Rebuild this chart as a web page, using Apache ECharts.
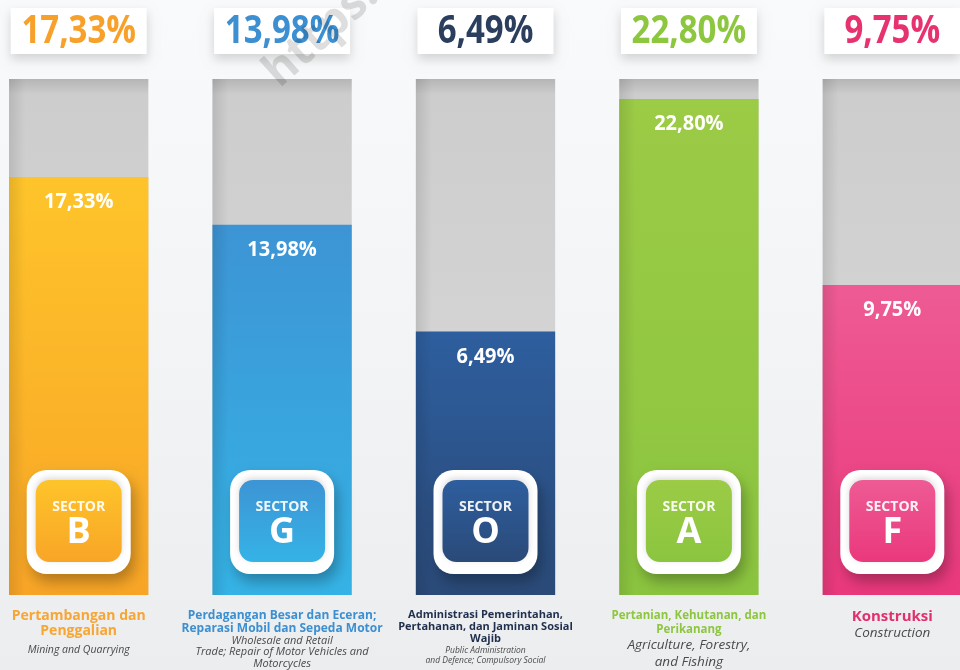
<!DOCTYPE html>
<html><head><meta charset="utf-8">
<script src="https://cdn.jsdelivr.net/npm/echarts@6/dist/echarts.min.js"></script>
<style>html,body{margin:0;padding:0;background:#f3f4f6}#c{width:960px;height:670px}</style>
</head><body><div id="c"></div>
<script>
// ---- data ----
const sectors = ['B', 'G', 'O', 'A', 'F'];
const values = [17.33, 13.98, 6.49, 22.80, 9.75];
const namesId = [
  'Pertambangan dan\nPenggalian',
  'Perdagangan Besar dan Eceran;\nReparasi Mobil dan Sepeda Motor',
  'Administrasi Pemerintahan,\nPertahanan, dan Jaminan Sosial\nWajib',
  'Pertanian, Kehutanan, dan\nPerikanang',
  'Konstruksi'
];
const namesEn = [
  'Mining and Quarrying',
  'Wholesale and Retail\nTrade; Repair of Motor Vehicles and\nMotorcycles',
  'Public Administration\nand Defence; Compulsory Social',
  'Agriculture, Forestry,\nand Fishing',
  'Construction'
];

// ---- styling ----
const Y_MIN = -12, Y_MAX = 24.2;
const barTop = ['#FEC42B', '#3D94D4', '#2E5E9E', '#9CCB46', '#EE5B94'];
const barBot = ['#F8A526', '#35B3E6', '#2A4A78', '#8BC53F', '#EA387C'];
const txtCol = ['#F7A12B', '#3C8FD0', '#2B3E5E', '#8DC63F', '#E8326F'];
const nameCol = ['#F7A533', '#3C8FD0', '#1F2F4D', '#8DC63F', '#E0316C'];
const FONT = '"Open Sans", "Noto Sans", sans-serif';
const fmt = v => v.toFixed(2).replace('.', ',') + '%';

function renderItem(params, api) {
  const i = api.value(0), v = api.value(1);
  const top = api.coord([i, Y_MAX]);
  const base = api.coord([i, Y_MIN]);
  const pt = api.coord([i, v]);
  const bw = api.size([1, 0])[0] * 0.685;
  const cx = pt[0], x0 = cx - bw / 2;
  const lg = (a, b) => new echarts.graphic.LinearGradient(0, 0, 0, 1, [{offset: 0, color: a}, {offset: 1, color: b}]);
  const bcy = base[1] - 73;
  return {
    type: 'group',
    children: [
      {type: 'rect', shape: {x: x0, y: top[1], width: bw, height: base[1] - top[1]},
        style: {fill: new echarts.graphic.LinearGradient(0, 0, 0, 1, [
          {offset: 0, color: '#B5B5B5'}, {offset: 0.03, color: '#CDCDCD'}, {offset: 1, color: '#DADADA'}])}},
      {type: 'rect', shape: {x: x0, y: pt[1], width: bw, height: base[1] - pt[1]},
        style: {fill: lg(barTop[i], barBot[i])}},
      {type: 'rect', shape: {x: x0, y: top[1], width: 16, height: base[1] - top[1]},
        style: {fill: new echarts.graphic.LinearGradient(0, 0, 1, 0, [
          {offset: 0, color: 'rgba(0,0,0,0.10)'}, {offset: 1, color: 'rgba(0,0,0,0)'}])}},
      {type: 'text', x: cx, y: pt[1] + 25, scaleY: 1.1,
        style: {text: fmt(v), fill: '#ffffff', font: '700 20px ' + FONT, align: 'center', verticalAlign: 'middle'}},
      {type: 'rect', shape: {x: cx - 68, y: 8, width: 136, height: 46},
        style: {fill: '#ffffff', shadowBlur: 10, shadowOffsetY: 5, shadowColor: 'rgba(0,0,0,0.16)'}},
      {type: 'text', x: cx, y: 32, scaleY: 1.2,
        style: {text: fmt(v), fill: txtCol[i], font: '700 33px ' + FONT, align: 'center', verticalAlign: 'middle'}},
      {type: 'rect', shape: {x: cx - 52, y: bcy - 52, width: 104, height: 104, r: 20},
        style: {fill: '#ffffff', shadowBlur: 14, shadowOffsetX: 4, shadowOffsetY: 8, shadowColor: 'rgba(0,0,0,0.28)'}},
      {type: 'rect', shape: {x: cx - 43, y: bcy - 42, width: 86, height: 82, r: 14},
        style: {fill: lg(barTop[i], barBot[i]), shadowBlur: 6, shadowOffsetY: -2, shadowColor: 'rgba(0,0,0,0.15)'}},
      {type: 'text', x: cx, y: bcy - 15,
        style: {text: 'SECTOR', fill: 'rgba(255,255,255,0.92)', font: '700 14px ' + FONT, align: 'center', verticalAlign: 'middle'}},
      {type: 'text', x: cx, y: bcy + 11,
        style: {text: sectors[i], fill: '#ffffff', font: '700 36px ' + FONT, align: 'center', verticalAlign: 'middle'}}
    ]
  };
}

const nameFont = [[14, 15], [12, 13], [11, 12], [11.5, 14], [15, 16]];
const enFont = [[10.5, 23], [11, 11.5], [8.5, 10.5], [13.5, 16.5], [13.5, 17]];
const rich = {};
for (let i = 0; i < 5; i++) {
  rich['n' + i] = {color: nameCol[i], fontFamily: FONT, fontWeight: 700, fontSize: nameFont[i][0], lineHeight: nameFont[i][1], align: 'center'};
  rich['e' + i] = {color: '#4a4a4a', fontFamily: FONT, fontStyle: 'italic', fontSize: enFont[i][0], lineHeight: enFont[i][1], align: 'center'};
}
function labelFmt(val, idx) {
  const n = namesId[idx].split('\n').map(s => '{n' + idx + '|' + s + '}').join('\n');
  const e = namesEn[idx].split('\n').map(s => '{e' + idx + '|' + s + '}').join('\n');
  return n + '\n' + e;
}

const chart = echarts.init(document.getElementById('c'), null, {renderer: 'canvas'});
chart.setOption({
  animation: false,
  backgroundColor: new echarts.graphic.LinearGradient(0, 0, 0, 1, [
    {offset: 0, color: '#F9FAFB'}, {offset: 0.5, color: '#F3F4F6'}, {offset: 1, color: '#ECEDEF'}]),
  grid: {left: -23, right: -34, top: 79, bottom: 75, containLabel: false, outerBoundsMode: 'none'},
  xAxis: {
    type: 'category', data: sectors,
    axisLine: {show: false}, axisTick: {show: false},
    axisLabel: {interval: 0, margin: 14, hideOverlap: false, formatter: labelFmt, rich: rich, verticalAlign: 'top'}
  },
  yAxis: {type: 'value', min: Y_MIN, max: Y_MAX, show: false, splitLine: {show: false}},
  series: [{
    type: 'custom', renderItem: renderItem,
    data: values.map((v, i) => [i, v])
  }],
  graphic: [{
    type: 'text', x: 286, y: 96, rotation: 0.73, z: 100,
    style: {text: 'https://www.bps.go.id', fill: 'rgba(0,0,0,0.13)', font: '700 46px ' + FONT, align: 'left', verticalAlign: 'bottom'}
  }]
});
</script></body></html>
